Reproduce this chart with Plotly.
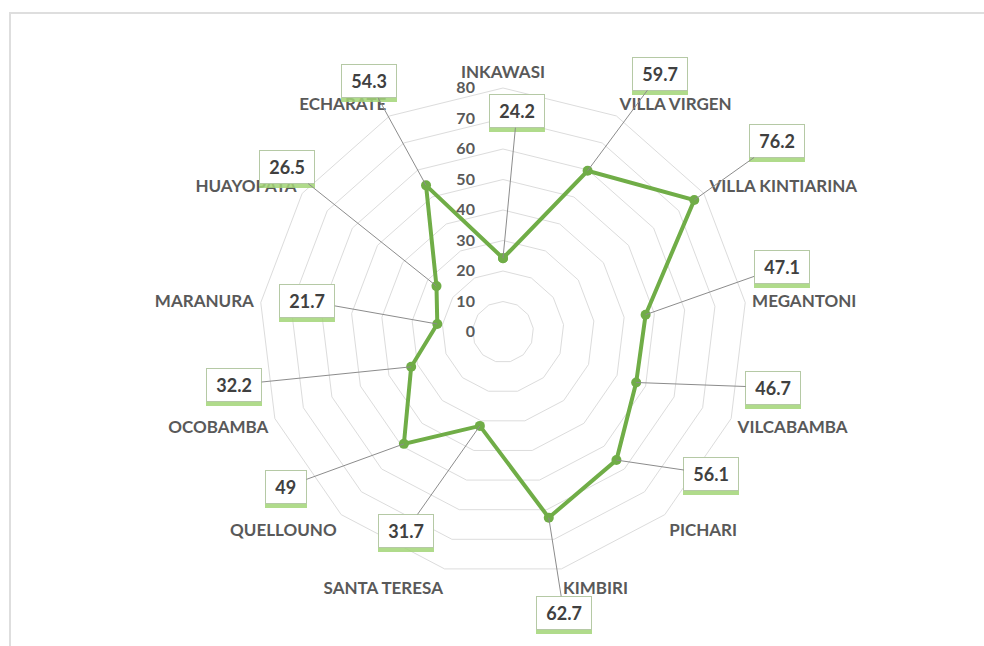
import math
import plotly.graph_objects as go

# ---- data ----
categories = ["INKAWASI", "VILLA VIRGEN", "VILLA KINTIARINA", "MEGANTONI", "VILCABAMBA",
              "PICHARI", "KIMBIRI", "SANTA TERESA", "QUELLOUNO", "OCOBAMBA",
              "MARANURA", "HUAYOPATA", "ECHARATE"]
values = [24.2, 59.7, 76.2, 47.1, 46.7, 56.1, 62.7, 31.7, 49, 32.2, 21.7, 26.5, 54.3]
value_labels = ["24.2", "59.7", "76.2", "47.1", "46.7", "56.1", "62.7", "31.7", "49",
                "32.2", "21.7", "26.5", "54.3"]
radial_ticks = [0, 10, 20, 30, 40, 50, 60, 70, 80]

# ---- layout constants ----
W, H = 984, 646
CX, CY, R = 503, 332, 244          # polar center / outer radius in pixels
RMAX = 80
GREEN = "#70ad47"
TXT = "#595959"
FONT = "Lato"
NB = "\u00a0"

# pixel offsets of each value box from its point
label_offsets = [(14, -147), (72, -97), (83, -59), (136, -48), (137, 5), (95, 14),
                 (15, 95), (-74, 105), (-118, 43), (-177, 18), (-130, -23),
                 (-149, -119), (-57, -104)]

fig = go.Figure()
fig.add_trace(go.Scatterpolar(
    r=values + [values[0]],
    theta=categories + [categories[0]],
    mode="lines+markers",
    line=dict(color=GREEN, width=4),
    marker=dict(color=GREEN, size=10),
    hoverinfo="r+theta",
    showlegend=False,
))

n = len(categories)
annotations = []
for i, (v, lab) in enumerate(zip(values, value_labels)):
    ang = 2 * math.pi * i / n
    px = CX + v / RMAX * R * math.sin(ang)
    py = CY - v / RMAX * R * math.cos(ang)
    xp, yp = px / W, 1 - py / H
    ax, ay = label_offsets[i]
    txt = NB + lab + NB
    # green glow under the box
    annotations.append(dict(
        x=xp, y=yp, xref="paper", yref="paper", text=txt,
        showarrow=True, arrowcolor="rgba(0,0,0,0)", ax=ax, ay=ay, yshift=-4,
        font=dict(family=FONT, size=18, color="#a3d577", weight="bold"),
        bgcolor="#a3d577", borderpad=5, borderwidth=1, bordercolor="#a3d577",
        opacity=0.85,
    ))
    annotations.append(dict(
        x=xp, y=yp, xref="paper", yref="paper", text=txt,
        showarrow=True, arrowhead=0, arrowwidth=1, arrowcolor="#8c8c8c",
        ax=ax, ay=ay, standoff=0,
        font=dict(family=FONT, size=18, color="#404040", weight="bold"),
        bgcolor="white", borderpad=5, borderwidth=1, bordercolor="#b5c9a5",
    ))

fig.update_layout(
    width=W, height=H,
    margin=dict(l=0, r=0, t=0, b=0),
    paper_bgcolor="white",
    plot_bgcolor="white",
    polar=dict(
        domain=dict(x=[(CX - R) / W, (CX + R) / W], y=[(H - CY - R) / H, (H - CY + R) / H]),
        bgcolor="white",
        gridshape="linear",
        radialaxis=dict(
            range=[0, RMAX], tickvals=radial_ticks, angle=90, side="counterclockwise",
            showline=False, ticks="outside", ticklen=22, tickcolor="rgba(0,0,0,0)",
            gridcolor="#dcdcdc", gridwidth=1,
            tickfont=dict(family=FONT, size=16, color=TXT, weight="bold"),
            tickangle=90,
        ),
        angularaxis=dict(
            direction="clockwise", rotation=90, showgrid=False,
            linecolor="#dcdcdc", linewidth=1,
            ticks="outside", ticklen=3, tickcolor="rgba(0,0,0,0)",
            tickfont=dict(family=FONT, size=17, color=TXT, weight="bold"),
        ),
    ),
    annotations=annotations,
    shapes=[dict(type="rect", xref="paper", yref="paper",
                 x0=10 / W, x1=1.05, y0=-0.05, y1=1 - 13 / H,
                 line=dict(color="#dedede", width=2), fillcolor="rgba(0,0,0,0)")],
)

fig.write_html("out.html", post_script="document.body.style.margin='0';",
               config={"displayModeBar": False})
